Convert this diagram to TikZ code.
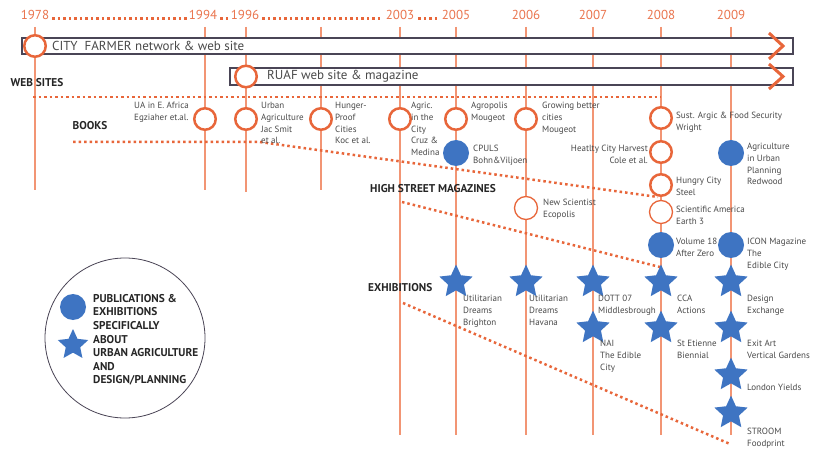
\documentclass[tikz,border=0pt]{standalone}
\usepackage{fontspec}
\setmainfont{PT Sans}
\usetikzlibrary{shapes.geometric}

\definecolor{tlorange}{HTML}{E8663A}
\definecolor{tlline}{HTML}{F29574}
\definecolor{tlblue}{HTML}{3E74C2}
\definecolor{tlgrey}{HTML}{4A4556}
\definecolor{tltext}{HTML}{4A4A4A}

\tikzset{
	year/.style={font=\fontsize{13}{13}\selectfont, text=tlorange!90, inner sep=1pt},
	yearline/.style={draw=tlline, line width=1.2pt},
	dots/.style={draw=tlorange, line width=2.5pt, dash pattern=on 2.5pt off 3pt},
	bar/.style={draw=tlgrey, line width=1.3pt, fill=white},
	bartext/.style={font=\fontsize{13}{13}\selectfont, text=tltext, anchor=west, inner sep=0pt},
	chev/.style={draw=tlorange, line width=3pt},
	ring/.style={circle, draw=tlorange, line width=2.5pt, fill=white, minimum size=21.5pt, inner sep=0pt},
	thinring/.style={ring, line width=1.3pt, minimum size=23pt},
	dot/.style={circle, fill=tlblue, minimum size=26pt, inner sep=0pt},
	bigstar/.style={star, star points=5, star point ratio=2.1, fill=tlblue, minimum size=35pt, inner sep=0pt},
	txt/.style={font=\fontsize{9}{11.8}\selectfont, text=tltext, align=left, inner sep=0pt},
	cat/.style={font=\fontsize{11.3}{13.6}\selectfont\bfseries, text=black!85, align=left, inner sep=0pt}
}

\begin{document}
\begin{tikzpicture}[x=1pt, y=-1pt]

	\useasboundingbox [fill=white] (0,0) rectangle (817,449);

	% years
	\foreach \x/\yr in {35/1978, 203/1994, 245/1996, 400/2003, 456/2005, 526/2006, 593/2007, 661/2008, 731/2009}
		\node[year] (y\yr) at (\x,15) {\yr};

	% time lines
	\foreach \x/\e in {35/190, 205/190, 246/192, 321/190, 400/435, 456/435, 526/435, 593/435, 661/435, 731/435}
		\draw[yearline] (\x,27) -- (\x,\e);

	\draw[dots] ([xshift=2pt, yshift=1pt]y1978.base east) -- ([xshift=-1pt, yshift=1pt]y1994.base west);
	\draw[dots] ([xshift=2pt, yshift=1pt]y1994.base east) -- ([xshift=-1pt, yshift=1pt]y1996.base west);
	\draw[dots] ([xshift=2pt, yshift=1pt]y1996.base east) -- ([xshift=-2pt, yshift=1pt]y2003.base west);
	\draw[dots] ([xshift=3pt, yshift=1pt]y2003.base east) -- ([xshift=-1pt, yshift=1pt]y2005.base west);

	% web sites
	\draw[bar] (22,38) rectangle (793,54);
	\draw[chev] (769,33) -- (783,46) -- (769,59);
	\node[ring] (wCity) at (35,46) {};
	\node[bartext] (tCity) at (52,46) {CITY\ \ FARMER network \& web site};

	\draw[bar] (230,68) rectangle (793,85);
	\draw[chev] (769,64) -- (783,76.5) -- (769,89);
	\node[ring] (wRuaf) at (246,76.5) {};
	\node[bartext] (tRuaf) at (267,76.5) {RUAF web site \& magazine};

	\node[cat] (cWeb) at (37,83) {WEB SITES};
	\draw[dots] (33,97) -- (661,97);

	% books
	\node[cat] (cBooks) at (90,126) {BOOKS};
	\coordinate (bStart) at (73,142);
	\coordinate (bBend) at (260,142);
	\coordinate (bEnd) at (658,197);
	\draw[dots] (bStart) -- (bBend) -- (bEnd);

	\node[ring] (bAfrica) at (205,119) {};
	\node[ring] (bSmit) at (246,119) {};
	\node[ring] (bHunger) at (321,119) {};
	\node[ring] (bCruz) at (400,119) {};
	\node[ring] (bAgropolis) at (456,119) {};
	\node[ring] (bGrowing) at (526,119) {};
	\node[ring] (bSust) at (661,118) {};
	\node[ring] (bHarvest) at (661,152) {};
	\node[ring] (bHungry) at (661,185) {};
	\node[dot] (bCpuls) at (456,153) {};
	\node[dot] (bRedwood) at (731,153) {};

	\node[txt, anchor=north east] (tAfrica) at (189,102) {UA in E. Africa\\Egziaher et.al.};
	\node[txt, anchor=north west] (tSmit) at (261,102) {Urban\\Agriculture\\Jac Smit\\et al.};
	\node[txt, anchor=north west] (tHunger) at (335,102) {Hunger-\\Proof\\Cities\\Koc et al.};
	\node[txt, anchor=north west] (tCruz) at (411,102) {Agric.\\in the\\City\\Cruz \&\\Medina};
	\node[txt, anchor=north west] (tAgropolis) at (471,102) {Agropolis\\Mougeot};
	\node[txt, anchor=north west] (tGrowing) at (542,102) {Growing better\\cities\\Mougeot};
	\node[txt, anchor=north west] (tSust) at (676,112) {Sust. Argic \& Food Security\\Wright};
	\node[txt, anchor=north east, align=right] (tHarvest) at (648,145) {Heatlty City Harvest\\Cole et al.};
	\node[txt, anchor=north west] (tHungry) at (676,177) {Hungry City\\Steel};
	\node[txt, anchor=north west] (tCpuls) at (473,145) {CPULS\\Bohn\&Viljoen};
	\node[txt, anchor=north west] (tRedwood) at (747,143) {Agriculture\\in Urban\\Planning\\Redwood};

	% high street magazines
	\node[cat, anchor=west] (cMags) at (370,189) {HIGH STREET MAGAZINES};
	\coordinate (mStart) at (402,202);
	\coordinate (mEnd) at (660,267);
	\draw[dots] (mStart) -- (mEnd);

	\node[thinring] (mNewSci) at (526,208) {};
	\node[thinring] (mSciAm) at (661,212) {};
	\node[dot] (mVolume) at (661,245) {};
	\node[dot] (mIcon) at (731,245) {};

	\node[txt, anchor=north west] (tNewSci) at (543,199) {New Scientist\\Ecopolis};
	\node[txt, anchor=north west] (tSciAm) at (676,206) {Scientific America\\Earth 3};
	\node[txt, anchor=north west] (tVolume) at (676,238) {Volume 18\\After Zero};
	\node[txt, anchor=north west] (tIcon) at (747,238) {ICON Magazine\\The\\Edible City};

	% exhibitions
	\node[cat, anchor=west] (cExhib) at (368,288) {EXHIBITIONS};
	\coordinate (eStart) at (403,303);
	\coordinate (eEnd) at (730,444);
	\draw[dots] (eStart) -- (eEnd);

	\node[bigstar] (eBrighton) at (456,282) {};
	\node[bigstar] (eHavana) at (526,282) {};
	\node[bigstar] (eDott) at (593,282) {};
	\node[bigstar] (eCca) at (661,282) {};
	\node[bigstar] (eDesign) at (731,282) {};
	\node[bigstar] (eNai) at (593,328) {};
	\node[bigstar] (eEtienne) at (661,328) {};
	\node[bigstar] (eExit) at (731,328) {};
	\node[bigstar] (eLondon) at (731,375) {};
	\node[bigstar] (eStroom) at (731,413) {};

	\node[txt, anchor=north west] (tBrighton) at (463,295) {Utilitarian\\Dreams\\Brighton};
	\node[txt, anchor=north west] (tHavana) at (529,295) {Utilitarian\\Dreams\\Havana};
	\node[txt, anchor=north west] (tDott) at (598,295) {DOTT 07\\Middlesbrough};
	\node[txt, anchor=north west] (tCca) at (677,295) {CCA\\Actions};
	\node[txt, anchor=north west] (tDesign) at (747,295) {Design\\Exchange};
	\node[txt, anchor=north west] (tNai) at (600,340) {NAI\\The Edible\\City};
	\node[txt, anchor=north west] (tEtienne) at (677,340) {St Etienne\\Biennial};
	\node[txt, anchor=north west] (tExit) at (747,340) {Exit Art\\Vertical Gardens};
	\node[txt, anchor=north west] (tLondon) at (747,384) {London Yields};
	\node[txt, anchor=north west] (tStroom) at (747,428) {STROOM\\Foodprint};

	% legend
	\node[circle, draw=tlgrey, line width=0.8pt, minimum size=160pt, inner sep=0pt] (legend) at (125,338) {};
	\node[dot] (lDot) at (73,307) {};
	\node[bigstar, minimum size=32pt] (lStar) at (73,345) {};
	\node[cat, anchor=north west] (lText) at (93,294) {PUBLICATIONS \&\\EXHIBITIONS\\SPECIFICALLY\\ABOUT\\URBAN AGRICULTURE\\AND\\DESIGN/PLANNING};

\end{tikzpicture}
\end{document}
